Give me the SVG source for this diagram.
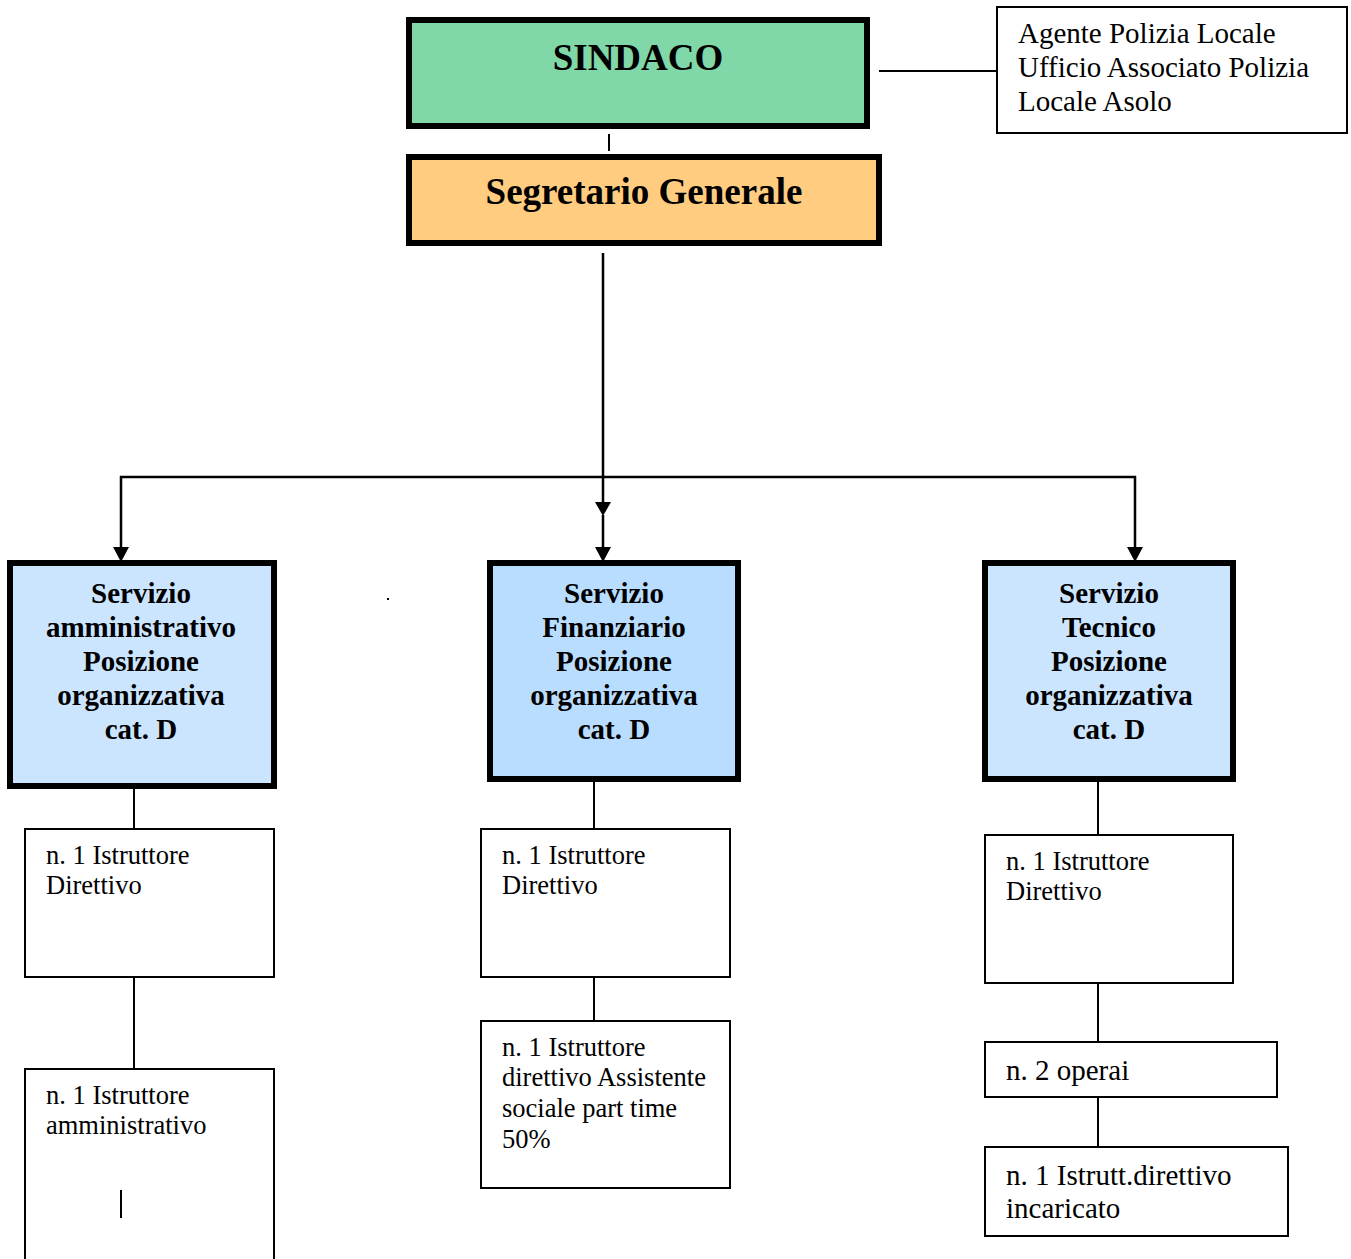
<svg xmlns="http://www.w3.org/2000/svg" width="1351" height="1259" viewBox="0 0 1351 1259">
<style>
.thick{stroke:#000;stroke-width:6}
.thin{fill:#fff;stroke:#000;stroke-width:2}
.con{stroke:#000;stroke-width:2;fill:none}
.arr{stroke:#000;stroke-width:2.5;fill:none}
.t{font-family:"Liberation Serif","Times New Roman",serif;fill:#000}
.b{font-weight:bold;font-size:29px;text-anchor:middle}
.r{font-size:26.5px}
.r29{font-size:29px}
</style>
<defs>
<marker id="ah" markerUnits="userSpaceOnUse" markerWidth="18" markerHeight="16" refX="8" refY="14" orient="auto-start-reverse" viewBox="0 0 16 16">
<path d="M0,0 L16,0 L8,14 Z" fill="#000" transform="rotate(-90 8 8)"/>
</marker>
</defs>
<rect width="1351" height="1259" fill="#fff"/>
<g id="connectors">
<line class="con" x1="609" y1="134" x2="609" y2="151"/>
<line class="con" x1="879" y1="71" x2="997" y2="71"/>
<line class="arr" x1="603" y1="253" x2="603" y2="502"/>
<path d="M595,502 L611,502 L603,516 Z" fill="#000"/>
<line class="arr" x1="603" y1="515" x2="603" y2="548"/>
<path d="M595,547 L611,547 L603,562 Z" fill="#000"/>
<polyline class="arr" points="121,548 121,477 1135,477 1135,548"/>
<path d="M113,547 L129,547 L121,562 Z" fill="#000"/>
<path d="M1127,547 L1143,547 L1135,562 Z" fill="#000"/>
<line class="con" x1="134" y1="789" x2="134" y2="829"/>
<line class="con" x1="134" y1="977" x2="134" y2="1069"/>
<line class="con" x1="594" y1="782" x2="594" y2="829"/>
<line class="con" x1="594" y1="977" x2="594" y2="1021"/>
<line class="con" x1="1098" y1="782" x2="1098" y2="835"/>
<line class="con" x1="1098" y1="983" x2="1098" y2="1042"/>
<line class="con" x1="1098" y1="1097" x2="1098" y2="1147"/>
</g>
<g id="sindaco">
<rect class="thick" x="409" y="20" width="458" height="106" fill="#80d8a8"/>
<text class="t" x="638" y="70" font-weight="bold" font-size="37" text-anchor="middle">SINDACO</text>
</g>
<g id="segretario">
<rect class="thick" x="409" y="157" width="470" height="86" fill="#ffcc80"/>
<text class="t" x="644" y="204" font-weight="bold" font-size="37" text-anchor="middle">Segretario Generale</text>
</g>
<g id="polizia">
<rect class="thin" x="997" y="7" width="350" height="126"/>
<text class="t r29" x="1018" y="43">Agente Polizia Locale</text>
<text class="t r29" x="1018" y="77">Ufficio Associato Polizia</text>
<text class="t r29" x="1018" y="111">Locale Asolo</text>
</g>
<g id="serv-amm">
<rect class="thick" x="10" y="563" width="264" height="223" fill="#cce5ff"/>
<text class="t b" x="141" y="603">Servizio</text>
<text class="t b" x="141" y="637">amministrativo</text>
<text class="t b" x="141" y="671">Posizione</text>
<text class="t b" x="141" y="705">organizzativa</text>
<text class="t b" x="141" y="739">cat. D</text>
</g>
<g id="serv-fin">
<rect class="thick" x="490" y="563" width="248" height="216" fill="#b9ddff"/>
<text class="t b" x="614" y="603">Servizio</text>
<text class="t b" x="614" y="637">Finanziario</text>
<text class="t b" x="614" y="671">Posizione</text>
<text class="t b" x="614" y="705">organizzativa</text>
<text class="t b" x="614" y="739">cat. D</text>
</g>
<g id="serv-tec">
<rect class="thick" x="985" y="563" width="248" height="216" fill="#cce5ff"/>
<text class="t b" x="1109" y="603">Servizio</text>
<text class="t b" x="1109" y="637">Tecnico</text>
<text class="t b" x="1109" y="671">Posizione</text>
<text class="t b" x="1109" y="705">organizzativa</text>
<text class="t b" x="1109" y="739">cat. D</text>
</g>
<g id="dot">
<rect x="387" y="598" width="2" height="2" fill="#000"/>
</g>
<g id="amm-1">
<rect class="thin" x="25" y="829" width="249" height="148"/>
<text class="t r" x="46" y="864">n. 1 Istruttore</text>
<text class="t r" x="46" y="894">Direttivo</text>
</g>
<g id="amm-2">
<path class="con" d="M25,1259 L25,1069 L274,1069 L274,1259"/>
<text class="t r" x="46" y="1104">n. 1 Istruttore</text>
<text class="t r" x="46" y="1134">amministrativo</text>
<line class="con" x1="121" y1="1190" x2="121" y2="1218"/>
</g>
<g id="fin-1">
<rect class="thin" x="481" y="829" width="249" height="148"/>
<text class="t r" x="502" y="864">n. 1 Istruttore</text>
<text class="t r" x="502" y="894">Direttivo</text>
</g>
<g id="fin-2">
<rect class="thin" x="481" y="1021" width="249" height="167"/>
<text class="t r" x="502" y="1056">n. 1 Istruttore</text>
<text class="t r" x="502" y="1086">direttivo Assistente</text>
<text class="t r" x="502" y="1117">sociale part time</text>
<text class="t r" x="502" y="1148">50%</text>
</g>
<g id="tec-1">
<rect class="thin" x="985" y="835" width="248" height="148"/>
<text class="t r" x="1006" y="870">n. 1 Istruttore</text>
<text class="t r" x="1006" y="900">Direttivo</text>
</g>
<g id="tec-2">
<rect class="thin" x="985" y="1042" width="292" height="55"/>
<text class="t r29" x="1006" y="1080">n. 2 operai</text>
</g>
<g id="tec-3">
<rect class="thin" x="985" y="1147" width="303" height="89"/>
<text class="t r29" x="1006" y="1185">n. 1 Istrutt.direttivo</text>
<text class="t r29" x="1006" y="1218">incaricato</text>
</g>
</svg>
